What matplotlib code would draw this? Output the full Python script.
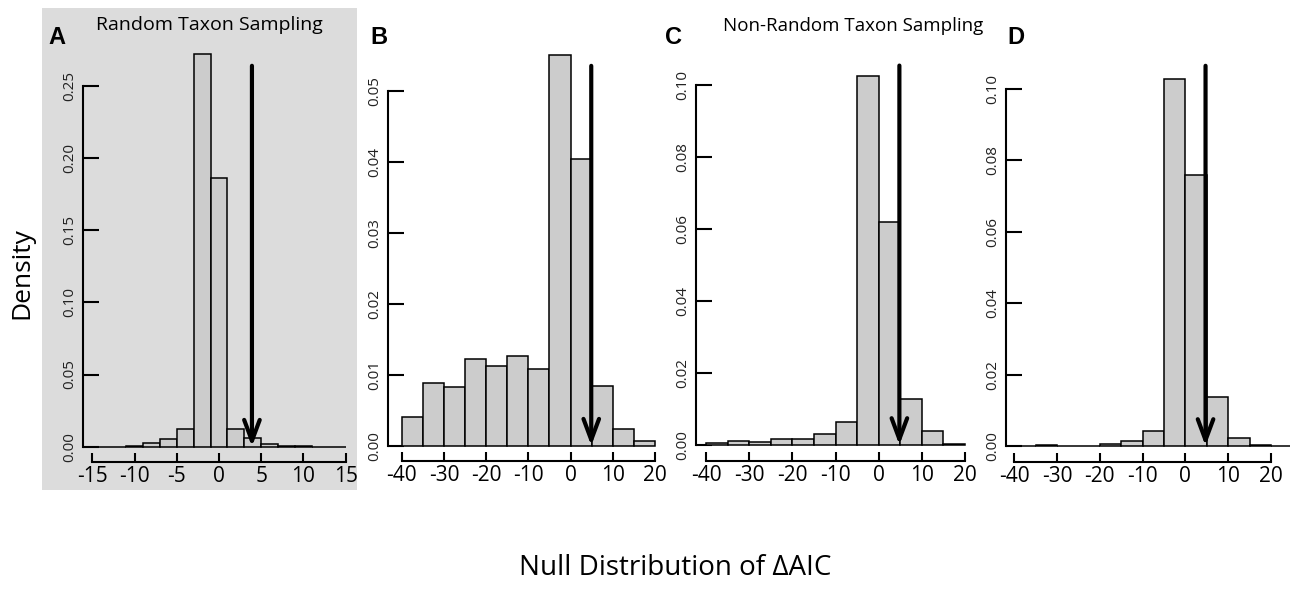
import numpy as np
import matplotlib
matplotlib.use("Agg")
import matplotlib.pyplot as plt
from matplotlib.patches import Rectangle

# ---------------- data ----------------
a_edges = [-15, -13, -11, -9, -7, -5, -3, -1, 1, 3, 5, 7, 9, 11, 13, 15]
a_density = [0.0, 0.0, 0.0007, 0.0028, 0.0053, 0.012, 0.2724, 0.186,
             0.0122, 0.0062, 0.0018, 0.0007, 0.0002, 0.0, 0.0]
a_obs = 3.9

b_edges = [-40, -35, -30, -25, -20, -15, -10, -5, 0, 5, 10, 15, 20]
b_density = [0.0041, 0.0088, 0.0082, 0.0122, 0.0112, 0.0126, 0.0108,
             0.0550, 0.0404, 0.0084, 0.0024, 0.0006]
b_obs = 4.9

c_edges = [-40, -35, -30, -25, -20, -15, -10, -5, 0, 5, 10, 15, 20]
c_density = [0.0005, 0.0011, 0.0007, 0.0017, 0.0017, 0.0031, 0.0065,
             0.1025, 0.0620, 0.0127, 0.0039, 0.0004]
c_obs = 4.8

d_edges = [-40, -35, -30, -25, -20, -15, -10, -5, 0, 5, 10, 15, 20, 25]
d_density = [0.0, 0.0003, 0.0, 0.0, 0.0005, 0.0014, 0.0042,
             0.1028, 0.0759, 0.0138, 0.0023, 0.0003, 0.0]
d_obs = 4.7

a_xticks = [-15, -10, -5, 0, 5, 10, 15]
a_yticks = [0.00, 0.05, 0.10, 0.15, 0.20, 0.25]
bcd_xticks = [-40, -30, -20, -10, 0, 10, 20]
b_yticks = [0.00, 0.01, 0.02, 0.03, 0.04, 0.05]
cd_yticks = [0.00, 0.02, 0.04, 0.06, 0.08, 0.10]

arrow_tops = [0.264, 0.0535, 0.1054, 0.1065]

# ---------------- layout ----------------
W, H = 1290, 589
fig = plt.figure(figsize=(W / 100, H / 100), dpi=100)
fig.patch.set_facecolor("white")

# gray background behind panel A
fig.patches.append(Rectangle((42 / W, 1 - 490 / H), (357 - 42) / W, (490 - 8) / H,
                             transform=fig.transFigure, facecolor="#dcdcdc",
                             edgecolor="none", zorder=-5))

FONT = "Open Sans"

# per panel geometry in pixels
geoms = [
    (-15, 92.3, 15, 345.7, 0.25, 446.7, 86.0, 83.0, 462.0, 357.0, 40.0),
    (-40, 401.7, 20, 655.0, 0.05, 445.7, 90.7, 387.7, 461.0, 665.0, 40.0),
    (-40, 706.0, 20, 965.0, 0.10, 445.0, 85.0, 695.7, 461.0, 975.0, 40.0),
    (-40, 1014.3, 20, 1271.0, 0.10, 446.0, 89.0, 1006.0, 461.5, 1290.0, 40.0),
]

panels = [
    (a_edges, a_density, a_obs, a_xticks, a_yticks),
    (b_edges, b_density, b_obs, bcd_xticks, b_yticks),
    (c_edges, c_density, c_obs, bcd_xticks, cd_yticks),
    (d_edges, d_density, d_obs, bcd_xticks, cd_yticks),
]

for i, (g, p) in enumerate(zip(geoms, panels)):
    xa, pxa, xb, pxb, ytop, py0, pytop, sl, sb, rpx, tpx = g
    edges, dens, obs, xticks, yticks = p
    ppx = (pxb - pxa) / (xb - xa)
    ppy = (py0 - pytop) / ytop
    xlim0 = xa - (pxa - sl) / ppx
    xlim1 = xa + (rpx - pxa) / ppx
    ylim0 = -(sb - py0) / ppy
    ylim1 = (py0 - tpx) / ppy
    ax = fig.add_axes([sl / W, 1 - sb / H, (rpx - sl) / W, (sb - tpx) / H])
    ax.set_zorder(1)
    ax.patch.set_visible(False)
    ax.set_xlim(xlim0, xlim1)
    ax.set_ylim(ylim0, ylim1)

    e = np.array(edges, dtype=float)
    ax.bar(e[:-1], dens, width=np.diff(e), align="edge", color="#cccccc",
           edgecolor="black", linewidth=1.1, zorder=2, clip_on=True)

    ax.annotate("", xy=(obs, 0), xytext=(obs, arrow_tops[i]),
                arrowprops=dict(arrowstyle="->,head_length=0.75,head_width=0.28",
                                lw=3.0, color="black", shrinkA=0, shrinkB=0,
                                mutation_scale=20),
                zorder=5)

    for s in ("top", "right"):
        ax.spines[s].set_visible(False)
    ax.spines["left"].set_bounds(yticks[0], yticks[-1])
    ax.spines["bottom"].set_bounds(xticks[0], xticks[-1])
    ax.spines["left"].set_linewidth(1.5)
    ax.spines["bottom"].set_linewidth(1.5)

    ax.set_xticks(xticks)
    ax.set_xticklabels([str(t) for t in xticks], fontfamily=FONT, fontsize=15)
    ax.set_yticks(yticks)
    ax.set_yticklabels([f"{t:.2f}" for t in yticks], fontfamily=FONT, fontsize=11,
                       rotation=90, va="center", color="#222222")
    ax.tick_params(axis="x", direction="in", length=6.5, width=1.5, pad=3)
    ax.tick_params(axis="y", direction="in", length=11.5, width=1.5, pad=4)

# ---------------- texts ----------------
def ftext(px, py, s, **kw):
    fig.text(px / W, 1 - py / H, s, ha="center", va="center", **kw)

ftext(209, 25, "Random Taxon Sampling", fontfamily=FONT, fontsize=14)
ftext(853.5, 26, "Non-Random Taxon Sampling", fontfamily=FONT, fontsize=13.5)
for lab, (px, py) in zip("ABCD", [(57, 38), (379, 37), (673, 37), (1016, 37)]):
    ftext(px, py, lab, fontfamily="Liberation Sans", fontweight="bold", fontsize=17)
ftext(22, 273, "Density", fontfamily=FONT, fontsize=19, rotation=90)
ftext(675, 568, "Null Distribution of \u0394AIC", fontfamily=FONT, fontsize=20)

fig.savefig("out.png", dpi=100)
